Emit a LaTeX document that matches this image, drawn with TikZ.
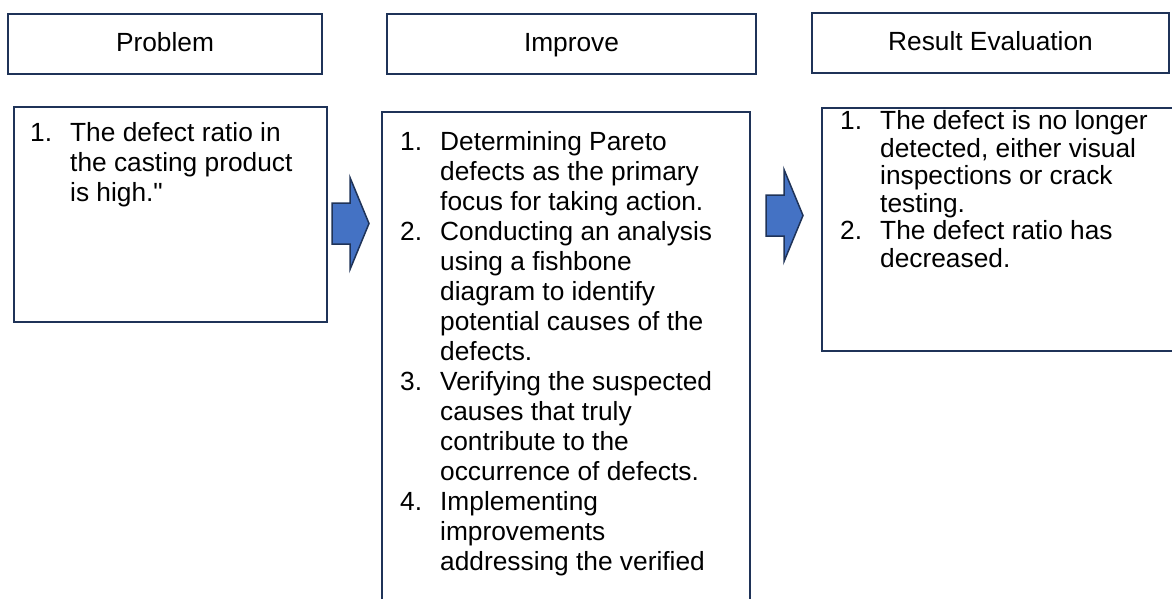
\documentclass[tikz,border=0pt]{standalone}
\usepackage{fontspec}
\setmainfont{Liberation Sans}[Ligatures=TeXOff]
\usetikzlibrary{calc}

\definecolor{boxline}{HTML}{1F3358}
\definecolor{arrowfill}{HTML}{4472C4}

\newcommand{\steplist}[1]{\begin{tabular}[t]{@{}p{40pt}@{}l@{}}#1\end{tabular}}

\tikzset{
  headbox/.style={draw=boxline, line width=2.5pt, inner sep=0pt, outer sep=0pt,
    text height=16pt, text depth=0pt, font=\fontsize{26.3}{30}\selectfont},
  listbox/.style={draw=boxline, line width=2.5pt, inner sep=0pt, outer sep=0pt, anchor=north west},
  listtext/.style={anchor=base west, inner sep=0pt, font=\fontsize{26.3}{30}\selectfont},
  pics/blockarrow/.style={code={
    \draw[draw=boxline, fill=arrowfill, line width=1.5pt, line join=miter]
      (0,-20.5) -- (18,-20.5) -- (18,-46) -- (37,0) -- (18,46) -- (18,20.5) -- (0,20.5) -- cycle;
  }}
}

\begin{document}
\begin{tikzpicture}[x=1pt, y=-1pt]

\useasboundingbox (0,0) rectangle (1172,599);

% headers
\node[headbox, minimum width=314pt, minimum height=60pt] (hProblem) at (165,44) {Problem};
\node[headbox, minimum width=369pt, minimum height=60pt] (hImprove) at (571.5,44) {Improve};
\node[headbox, minimum width=357pt, minimum height=60pt] (hResult) at (990.5,43) {Result Evaluation};

% content boxes
\node[listbox, minimum width=313pt, minimum height=215pt] (bProblem) at (14,107) {};
\node[listbox, minimum width=368pt, minimum height=520pt] (bImprove) at (382,112) {};
\node[listbox, minimum width=380pt, minimum height=243pt] (bResult) at (822,108) {};

\node[listtext] (tProblem) at ($(bProblem.north west)+(16,35)$) {\steplist{
  1. & The defect ratio in\\
     & the casting product\\
     & is high."\\}};

\node[listtext] (tImprove) at ($(bImprove.north west)+(18,38)$) {\steplist{
  1. & Determining Pareto\\
     & defects as the primary\\
     & focus for taking action.\\
  2. & Conducting an analysis\\
     & using a fishbone\\
     & diagram to identify\\
     & potential causes of the\\
     & defects.\\
  3. & Verifying the suspected\\
     & causes that truly\\
     & contribute to the\\
     & occurrence of defects.\\
  4. & Implementing\\
     & improvements\\
     & addressing the verified\\}};

\node[listtext, font=\fontsize{26.3}{27.5}\selectfont] (tResult) at ($(bResult.north west)+(18,22)$) {\steplist{
  1. & The defect is no longer\\
     & detected, either visual\\
     & inspections or crack\\
     & testing.\\
  2. & The defect ratio has\\
     & decreased.\\}};

% block arrows
\coordinate (arrA) at (332,223.5);
\coordinate (arrB) at (766,215.5);
\pic at (arrA) {blockarrow};
\pic at (arrB) {blockarrow};

\end{tikzpicture}
\end{document}
